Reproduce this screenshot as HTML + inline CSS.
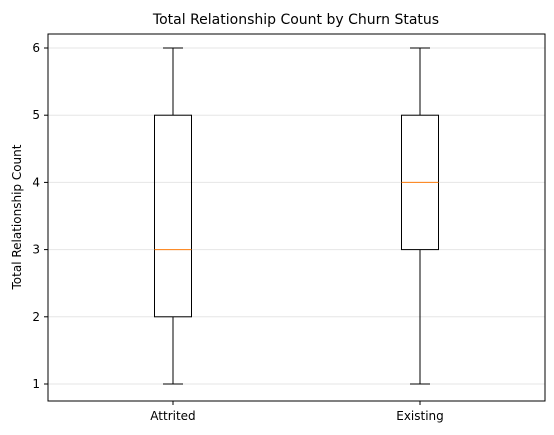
<!DOCTYPE html>
<html><head><meta charset="utf-8"><style>
body{margin:0;background:#fff;}
svg{display:block;font-family:"DejaVu Sans","Liberation Sans",sans-serif;}
</style></head><body>
<svg id="chart" width="554" height="435">
<text x="296" y="24" text-anchor="middle" font-size="14">Total Relationship Count by Churn Status</text>
<text transform="translate(21,217) rotate(-90)" text-anchor="middle" font-size="12">Total Relationship Count</text>
<g id="plot"></g>
<rect x="48" y="34" width="497" height="367" fill="none" stroke="#000" stroke-width="1"/>
</svg>
<script>
const categories = ["Attrited","Existing"];
const mins = [1,1];
const q1s = [2,3];
const medians = [3,4];
const q3s = [5,5];
const maxs = [6,6];
const yTicks = [1,2,3,4,5,6];

const L=48,R=545,T=34,B=401;
function y(v){return 384-(v-1)*67.2;}
function x(i){return 173+i*247;}
const ns="http://www.w3.org/2000/svg";
const g=document.getElementById('plot');
function mk(tag,attrs,name){const e=document.createElementNS(ns,tag);for(const k in attrs)e.setAttribute(k,attrs[k]);


g.appendChild(e);return e;}
yTicks.forEach(t=>{
  const yy=y(t);
  mk('line',{x1:L,x2:R,y1:yy,y2:yy,stroke:'#e6e6e6','stroke-width':1},'grid-line-'+t);
  mk('line',{x1:L-4,x2:L,y1:yy,y2:yy,stroke:'#000'},'y-tick-'+t);
  const tx=mk('text',{x:L-8,y:yy+4,'text-anchor':'end','font-size':12},'y-tick-label-'+t);tx.textContent=t;
});
categories.forEach((c,i)=>{
  const cx=x(i),hw=18.5,cw=10;
  mk('line',{x1:cx,x2:cx,y1:y(q3s[i]),y2:y(maxs[i]),stroke:'#000'},'upper-whisker-'+c);
  mk('line',{x1:cx,x2:cx,y1:y(q1s[i]),y2:y(mins[i]),stroke:'#000'},'lower-whisker-'+c);
  mk('line',{x1:cx-cw,x2:cx+cw,y1:y(maxs[i]),y2:y(maxs[i]),stroke:'#000'},'max-cap-'+c);
  mk('line',{x1:cx-cw,x2:cx+cw,y1:y(mins[i]),y2:y(mins[i]),stroke:'#000'},'min-cap-'+c);
  mk('rect',{x:cx-hw,y:y(q3s[i]),width:hw*2,height:y(q1s[i])-y(q3s[i]),fill:'none',stroke:'#000'},'box-'+c);
  mk('line',{x1:cx-hw,x2:cx+hw,y1:y(medians[i]),y2:y(medians[i]),stroke:'#ff7f0e'},'median-'+c);
  mk('line',{x1:cx,x2:cx,y1:B,y2:B+4,stroke:'#000'},'x-tick-'+c);
  const tx=mk('text',{x:cx,y:B+19,'text-anchor':'middle','font-size':12},'x-tick-label-'+c);tx.textContent=c;
});
</script>
</body></html>
